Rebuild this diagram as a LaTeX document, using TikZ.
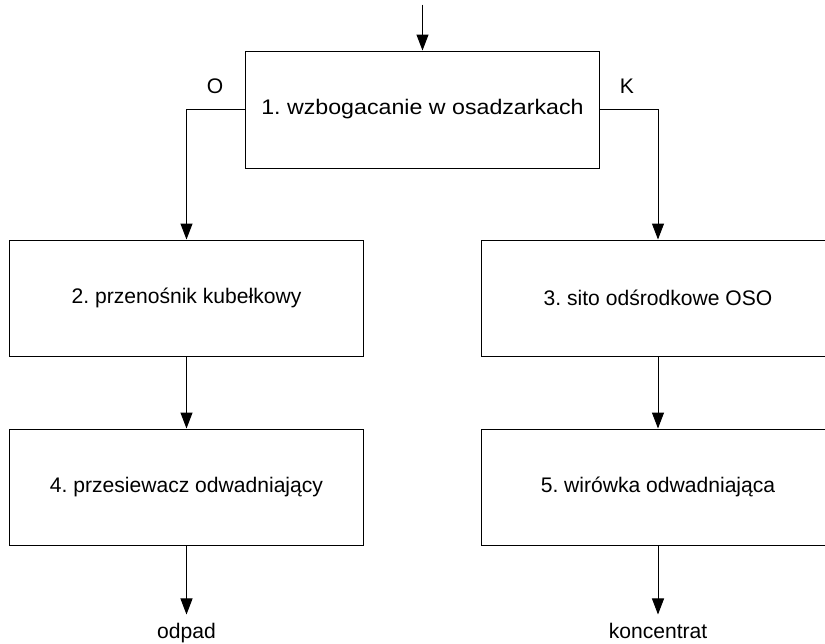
\documentclass[tikz,border=0pt]{standalone}
\usepackage{fontspec}
\setmainfont{Liberation Sans}
\frenchspacing
\usepackage{tikz}
\usetikzlibrary{positioning, arrows.meta}

\tikzset{
  unit/.style={draw, line width=0.7pt, minimum width=8.85cm, minimum height=2.9cm,
               inner sep=0pt, font=\fontsize{15}{18}\selectfont},
  flow/.style={line width=0.7pt, -{Triangle[length=4mm, width=3mm]}},
  tag/.style={font=\fontsize{15}{18}\selectfont}
}

\begin{document}
\begin{tikzpicture}
          \useasboundingbox (0, 0) rectangle (20.625, -16.1);

          \node[unit, minimum height=2.925cm] (b1) at (10.5625, -2.7375)
                {\scalebox{1.1}[1]{1. wzbogacanie w osadzarkach}};
          \node[unit] (b2) at (4.6625, -7.45) {2. przenośnik kubełkowy};
          \node[unit] (b3) at (16.45, -7.45) {3. sito odśrodkowe OSO};
          \node[unit] (b4) at (4.6625, -12.175) {4. przesiewacz odwadniający};
          \node[unit] (b5) at (16.45, -12.175) {5. wirówka odwadniająca};

          \coordinate[above=1.15cm of b1.north] (feed);

          \node[tag] (o) at (5.375, -2.15) {O};
          \node[tag] (k) at (15.675, -2.15) {K};

          \node[tag, anchor=base, inner sep=0pt] (waste) at ([yshift=-2.33cm]b4.south) {odpad};
          \node[tag, anchor=base, inner sep=0pt] (conc) at ([yshift=-2.33cm]b5.south) {koncentrat};

          \draw[flow] (feed) -- (b1.north);
          \draw[flow] (b1.west) -| (b2.north);
          \draw[flow] (b1.east) -| (b3.north);
          \draw[flow] (b2) -- (b4);
          \draw[flow] (b3) -- (b5);
          \draw[flow] (b4.south) -- ([yshift=-1.725cm]b4.south);
          \draw[flow] (b5.south) -- ([yshift=-1.725cm]b5.south);

        \end{tikzpicture}
\end{document}
